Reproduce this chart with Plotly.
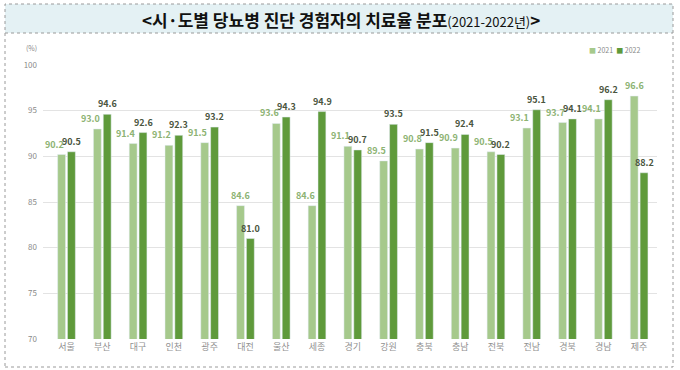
import plotly.graph_objects as go

regions = ["서울", "부산", "대구", "인천", "광주", "대전", "울산", "세종", "경기", "강원",
           "충북", "충남", "전북", "전남", "경북", "경남", "제주"]
rate_2021 = [90.2, 93.0, 91.4, 91.2, 91.5, 84.6, 93.6, 84.6, 91.1, 89.5,
             90.8, 90.9, 90.5, 93.1, 93.7, 94.1, 96.6]
rate_2022 = [90.5, 94.6, 92.6, 92.3, 93.2, 81.0, 94.3, 94.9, 90.7, 93.5,
             91.5, 92.4, 90.2, 95.1, 94.1, 96.2, 88.2]
y_ticks = [70, 75, 80, 85, 90, 95, 100]

C21 = "#a6c98c"
C22 = "#5f9a3b"
FONT = "Noto Sans CJK KR"
NUMFONT = "Liberation Sans Narrow, Noto Sans CJK KR, sans-serif"

W, H = 680, 370
ML, MR, MT, MB = 43, 23, 65, 31
PW, PH = W - ML - MR, H - MT - MB


def px(x):
    return (x - ML) / PW


def py(y):
    return (H - MB - y) / PH


fig = go.Figure()
fig.add_trace(go.Bar(x=regions, y=rate_2021, name="2021", marker_color=C21))
fig.add_trace(go.Bar(x=regions, y=rate_2022, name="2022", marker_color=C22))

annotations = []
for r, a, b in zip(regions, rate_2021, rate_2022):
    shift21 = -12 if b >= a - 1.0 else -5
    annotations.append(dict(x=r, y=a, xref="x", yref="y", text=f"{a:.1f}",
                            showarrow=False, xshift=shift21, yshift=2, yanchor="bottom",
                            font=dict(family=NUMFONT, size=9, color="#8db373", weight="bold")))
    annotations.append(dict(x=r, y=b, xref="x", yref="y", text=f"{b:.1f}",
                            showarrow=False, xshift=5, yshift=2, yanchor="bottom",
                            font=dict(family=NUMFONT, size=9, color="#4a5540", weight="bold")))

# title
annotations.append(dict(
    x=px(341), y=py(19), xref="paper", yref="paper", showarrow=False,
    text="<b>&lt;시·도별 당뇨병 진단 경험자의 치료율 분포</b>"
         "<span style='font-size:13px'>(2021-2022년)</span><b>&gt;</b>",
    font=dict(family=FONT, size=17, color="#111111"), xanchor="center", yanchor="middle"))
# unit label
annotations.append(dict(x=px(31), y=py(48), xref="paper", yref="paper", showarrow=False,
                        text="(%)", font=dict(family=FONT, size=7, color="#888888"),
                        xanchor="center", yanchor="middle"))
# legend
annotations.append(dict(
    x=px(642), y=py(50), xref="paper", yref="paper", showarrow=False,
    text=f"<span style='color:{C21}'>■</span> 2021  <span style='color:{C22}'>■</span> 2022",
    font=dict(family=FONT, size=7, color="#888888"), xanchor="right", yanchor="middle"))

shapes = [
    dict(type="rect", xref="paper", yref="paper", x0=px(5), x1=px(673), y0=py(33), y1=py(4),
         fillcolor="#e4f1f4", line=dict(width=0), layer="below"),
    dict(type="rect", xref="paper", yref="paper", x0=px(5), x1=px(673), y0=py(367), y1=py(4),
         line=dict(color="#9a9a9a", width=1, dash="dot"), fillcolor="rgba(0,0,0,0)"),
    dict(type="line", xref="paper", yref="paper", x0=px(5), x1=px(673), y0=py(33), y1=py(33),
         line=dict(color="#9a9a9a", width=1, dash="dot")),
]

fig.update_layout(
    width=W, height=H,
    margin=dict(l=ML, r=MR, t=MT, b=MB),
    paper_bgcolor="white", plot_bgcolor="white",
    barmode="group", bargap=0.45, bargroupgap=0.2,
    showlegend=False,
    annotations=annotations, shapes=shapes,
    font=dict(family=FONT),
)
fig.update_xaxes(showgrid=False, showline=False, ticks="", zeroline=False,
                 tickfont=dict(family=FONT, size=9, color="#909090"), ticklabelstandoff=1)
fig.update_yaxes(range=[70, 100], tickvals=y_ticks, showgrid=True, gridcolor="#e3e3e3",
                 gridwidth=1, zeroline=False, showline=False, ticks="",
                 tickfont=dict(family=FONT, size=8, color="#8a8a8a"), ticklabelstandoff=5)

fig.write_html("out.html",
               config={"displayModeBar": False},
               post_script="document.body.style.margin='0';document.body.style.padding='0';")
